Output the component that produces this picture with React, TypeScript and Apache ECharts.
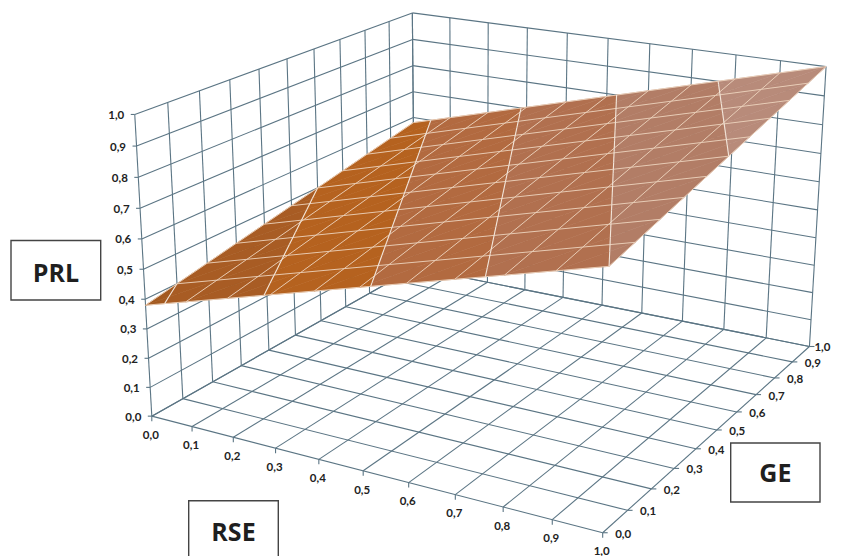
import React, { useEffect, useRef } from "react";
import * as echarts from "echarts";

const W = 852;
const H = 556;

const axisSteps = [0, 0.1, 0.2, 0.3, 0.4, 0.5, 0.6, 0.7, 0.8, 0.9, 1];
const rseLabels = ["0,0", "0,1", "0,2", "0,3", "0,4", "0,5", "0,6", "0,7", "0,8", "0,9", "1,0"];
const geLabels = ["0,0", "0,1", "0,2", "0,3", "0,4", "0,5", "0,6", "0,7", "0,8", "0,9", "1,0"];
const prlLabels = ["0,0", "0,1", "0,2", "0,3", "0,4", "0,5", "0,6", "0,7", "0,8", "0,9", "1,0"];

// PRL; one row per GE step, one column per RSE step
const prlGe00 = [0.38, 0.422, 0.464, 0.506, 0.548, 0.59, 0.632, 0.674, 0.716, 0.758, 0.8];
const prlGe01 = [0.4, 0.442, 0.484, 0.526, 0.568, 0.61, 0.652, 0.694, 0.736, 0.778, 0.82];
const prlGe02 = [0.42, 0.462, 0.504, 0.546, 0.588, 0.63, 0.672, 0.714, 0.756, 0.798, 0.84];
const prlGe03 = [0.44, 0.482, 0.524, 0.566, 0.608, 0.65, 0.692, 0.734, 0.776, 0.818, 0.86];
const prlGe04 = [0.46, 0.502, 0.544, 0.586, 0.628, 0.67, 0.712, 0.754, 0.796, 0.838, 0.88];
const prlGe05 = [0.48, 0.522, 0.564, 0.606, 0.648, 0.69, 0.732, 0.774, 0.816, 0.858, 0.9];
const prlGe06 = [0.5, 0.542, 0.584, 0.626, 0.668, 0.71, 0.752, 0.794, 0.836, 0.878, 0.92];
const prlGe07 = [0.52, 0.562, 0.604, 0.646, 0.688, 0.73, 0.772, 0.814, 0.856, 0.898, 0.94];
const prlGe08 = [0.54, 0.582, 0.624, 0.666, 0.708, 0.75, 0.792, 0.834, 0.876, 0.918, 0.96];
const prlGe09 = [0.56, 0.602, 0.644, 0.686, 0.728, 0.77, 0.812, 0.854, 0.896, 0.938, 0.98];
const prlGe10 = [0.58, 0.622, 0.664, 0.706, 0.748, 0.79, 0.832, 0.874, 0.916, 0.958, 1.0];
const prlRows = [prlGe00, prlGe01, prlGe02, prlGe03, prlGe04, prlGe05, prlGe06, prlGe07, prlGe08, prlGe09, prlGe10];

// value bands of the surface
const bandEdges = [0.3, 0.4, 0.5, 0.6, 0.7, 0.8, 0.9, 1.0];
const bandColors = ["#a3591f", "#a85c24", "#b5621f", "#b26a40", "#b1704f", "#b27d66", "#b88b7a"];

type P3 = [number, number, number];

// camera calibration: cube points (RSE, GE, PRL) and where the picture shows them
const calibCube: P3[] = [
  [0, 0, 0], [1, 0, 0], [1, 1, 0], [0, 1, 0], [0, 0, 1], [0, 1, 1], [1, 1, 1],
  [0.5, 0, 0], [1, 0.5, 0], [0, 0.5, 0], [0.5, 1, 1], [0, 0.5, 1], [0, 0, 0.5], [1, 1, 0.5],
];
const calibPixel: [number, number][] = [
  [152, 416], [602.3, 532.7], [810, 346], [413.5, 268], [134, 114], [413.3, 12.7], [825.7, 66.7],
  [363.3, 471], [717, 430.3], [296, 335], [608.3, 38.3], [286.7, 59.3], [144, 269.3], [817.3, 210],
];

function solveCamera(): number[] {
  const n = 11;
  const A = Array.from({ length: n }, () => new Array(n + 1).fill(0));
  calibCube.forEach(([x, y, z], i) => {
    const [u, v] = calibPixel[i];
    const rows = [
      { c: [x, y, z, 1, 0, 0, 0, 0, -u * x, -u * y, -u * z], b: u },
      { c: [0, 0, 0, 0, x, y, z, 1, -v * x, -v * y, -v * z], b: v },
    ];
    rows.forEach(({ c, b }) => {
      for (let a = 0; a < n; a++) {
        for (let d = 0; d < n; d++) A[a][d] += c[a] * c[d];
        A[a][n] += c[a] * b;
      }
    });
  });
  for (let i = 0; i < n; i++) {
    let p = i;
    for (let k = i + 1; k < n; k++) if (Math.abs(A[k][i]) > Math.abs(A[p][i])) p = k;
    [A[i], A[p]] = [A[p], A[i]];
    for (let k = 0; k < n; k++) {
      if (k === i) continue;
      const f = A[k][i] / A[i][i];
      for (let d = i; d <= n; d++) A[k][d] -= f * A[i][d];
    }
  }
  return A.map((r, i) => r[n] / r[i]);
}

const cam = solveCamera();
function project([x, y, z]: P3): [number, number] {
  const w = cam[8] * x + cam[9] * y + cam[10] * z + 1;
  return [
    (cam[0] * x + cam[1] * y + cam[2] * z + cam[3]) / w,
    (cam[4] * x + cam[5] * y + cam[6] * z + cam[7]) / w,
  ];
}

// box lines
const wallSegments: [P3, P3][] = [];
axisSteps.forEach((t) => {
  wallSegments.push([[t, 0, 0], [t, 1, 0]]);
  wallSegments.push([[0, t, 0], [1, t, 0]]);
  wallSegments.push([[0, t, 0], [0, t, 1]]);
  wallSegments.push([[0, 0, t], [0, 1, t]]);
  wallSegments.push([[t, 1, 0], [t, 1, 1]]);
  wallSegments.push([[0, 1, t], [1, 1, t]]);
});

// triangles of the mesh
function meshTriangles(): P3[][] {
  const out: P3[][] = [];
  for (let j = 0; j < axisSteps.length - 1; j++) {
    for (let i = 0; i < axisSteps.length - 1; i++) {
      const p = (a: number, b: number): P3 => [axisSteps[a], axisSteps[b], prlRows[b][a]];
      out.push([p(i, j), p(i + 1, j), p(i + 1, j + 1)]);
      out.push([p(i, j), p(i + 1, j + 1), p(i, j + 1)]);
    }
  }
  return out;
}

function clipZ(poly: P3[], level: number, keepAbove: boolean): P3[] {
  const res: P3[] = [];
  const inside = (p: P3) => (keepAbove ? p[2] >= level : p[2] <= level);
  poly.forEach((a, i) => {
    const b = poly[(i + 1) % poly.length];
    if (inside(a)) res.push(a);
    if (inside(a) !== inside(b)) {
      const t = (level - a[2]) / (b[2] - a[2]);
      res.push([a[0] + t * (b[0] - a[0]), a[1] + t * (b[1] - a[1]), level]);
    }
  });
  return res;
}

const triangles = meshTriangles();

const bandPieces: { poly: P3[]; color: string }[] = [];
bandColors.forEach((color, b) => {
  triangles.forEach((tri) => {
    const poly = clipZ(clipZ(tri, bandEdges[b], true), bandEdges[b + 1], false);
    if (poly.length >= 3) bandPieces.push({ poly, color });
  });
});

const contourSegments: [P3, P3][] = [];
bandEdges.slice(1, -1).forEach((level) => {
  triangles.forEach((tri) => {
    const pts: P3[] = [];
    tri.forEach((a, i) => {
      const b = tri[(i + 1) % 3];
      if ((a[2] < level) !== (b[2] < level)) {
        const t = (level - a[2]) / (b[2] - a[2]);
        pts.push([a[0] + t * (b[0] - a[0]), a[1] + t * (b[1] - a[1]), level]);
      }
    });
    if (pts.length === 2) contourSegments.push([pts[0], pts[1]]);
  });
});

const meshSegments: [P3, P3][] = [];
axisSteps.forEach((_, k) => {
  for (let i = 0; i < axisSteps.length - 1; i++) {
    meshSegments.push([[axisSteps[i], axisSteps[k], prlRows[k][i]], [axisSteps[i + 1], axisSteps[k], prlRows[k][i + 1]]]);
    meshSegments.push([[axisSteps[k], axisSteps[i], prlRows[i][k]], [axisSteps[k], axisSteps[i + 1], prlRows[i + 1][k]]]);
  }
});

type Lab = { text: string; at: P3; dx: number; dy: number; align: string; tx: number; ty: number };
const tickLabels: Lab[] = [];
axisSteps.forEach((t, i) => {
  tickLabels.push({ text: prlLabels[i], at: [0, 0, t], dx: -10.5, dy: 0, align: "right", tx: -4, ty: 0 });
  tickLabels.push({ text: rseLabels[i], at: [t, 0, 0], dx: -1, dy: 18.2, align: "center", tx: 0, ty: 5 });
  tickLabels.push({ text: geLabels[i], at: [1, t, 0], dx: i === 10 ? 13 : 20.5, dy: 0.5, align: "center", tx: 5, ty: 0 });
});

const LABEL_FONT = 'bold 11.5px Lato, "Open Sans", sans-serif';
const LINE = "#5b7584";

function segmentSeries(segs: [P3, P3][], stroke: string, lineWidth: number) {
  return {
    type: "custom",
    coordinateSystem: "cartesian2d",
    clip: false,
    silent: true,
    data: segs.map((_, i) => [i, i]),
    renderItem: (params: any, api: any) => {
      const [a, b] = segs[params.dataIndex];
      const p = api.coord(project(a));
      const q = api.coord(project(b));
      return {
        type: "line",
        shape: { x1: p[0], y1: p[1], x2: q[0], y2: q[1] },
        style: { stroke, lineWidth, fill: null },
      };
    },
  };
}

function boxGraphic(label: string, x: number, y: number, w: number, h: number, dy: number) {
  return {
    type: "group",
    children: [
      { type: "rect", shape: { x, y, width: w, height: h }, style: { fill: "#ffffff", stroke: "#444444", lineWidth: 1.4 } },
      {
        type: "text",
        x: x + w / 2,
        y: y + h / 2 + dy,
        style: {
          text: label,
          fill: "#1f1f1f",
          font: 'bold 25px "Open Sans", sans-serif',
          align: "center",
          verticalAlign: "middle",
        },
      },
    ],
  };
}

export default function App() {
  const ref = useRef<HTMLDivElement>(null);
  useEffect(() => {
    const chart = echarts.init(ref.current!, undefined, { renderer: "svg", width: W, height: H });
    chart.setOption({
      animation: false,
      backgroundColor: "#ffffff",
      grid: { left: 0, top: 0, right: 0, bottom: 0, containLabel: false },
      xAxis: { type: "value", min: 0, max: W, show: false },
      yAxis: { type: "value", min: 0, max: H, inverse: true, show: false },
      graphic: [
        boxGraphic("PRL", 11, 240.5, 89.7, 59.5, 1.5),
        boxGraphic("RSE", 188.7, 500.7, 89.6, 59, 1),
        boxGraphic("GE", 730.7, 443, 89.3, 59, -0.5),
      ],
      series: [
        segmentSeries(wallSegments, LINE, 1.1),
        {
          type: "custom",
          coordinateSystem: "cartesian2d",
          clip: false,
          silent: true,
          data: tickLabels.map((_, i) => [i, i]),
          renderItem: (params: any, api: any) => {
            const l = tickLabels[params.dataIndex];
            const p = api.coord(project(l.at));
            return {
              type: "group",
              children: [
                {
                  type: "line",
                  shape: { x1: p[0], y1: p[1], x2: p[0] + l.tx, y2: p[1] + l.ty },
                  style: { stroke: LINE, lineWidth: 1.1, fill: null },
                },
                {
                  type: "text",
                  x: p[0] + l.dx,
                  y: p[1] + l.dy,
                  style: {
                    text: l.text,
                    fill: "#222222",
                    font: LABEL_FONT,
                    align: l.align,
                    verticalAlign: "middle",
                  },
                },
              ],
            };
          },
        },
        {
          type: "custom",
          coordinateSystem: "cartesian2d",
          clip: false,
          silent: true,
          data: bandPieces.map((_, i) => [i, i]),
          renderItem: (params: any, api: any) => {
            const piece = bandPieces[params.dataIndex];
            return {
              type: "polygon",
              shape: { points: piece.poly.map((v) => api.coord(project(v))) },
              style: { fill: piece.color, stroke: piece.color, lineWidth: 0.6 },
            };
          },
        },
        segmentSeries(meshSegments, "#ecd2bc", 0.9),
        segmentSeries(contourSegments, "#f3e6da", 1.1),
      ],
    });
    return () => chart.dispose();
  }, []);
  return <div ref={ref} style={{ position: "absolute", left: 0, top: 0, width: W, height: H }} />;
}
